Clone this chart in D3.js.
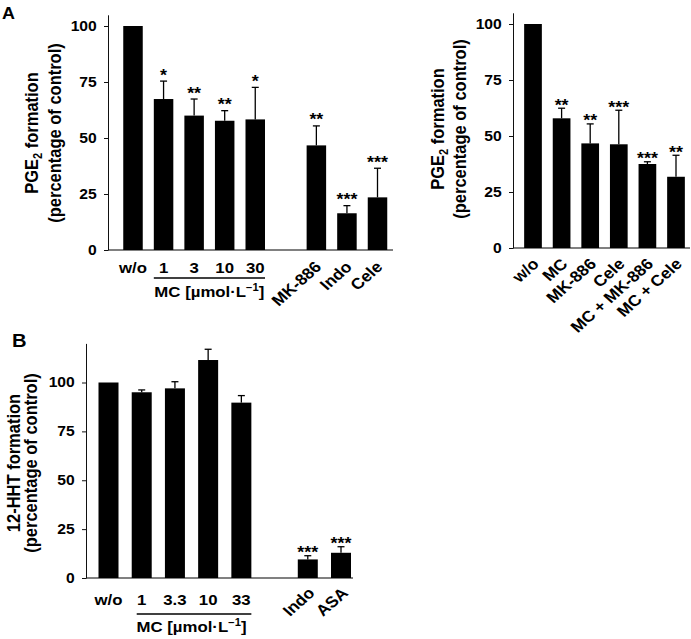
<!DOCTYPE html>
<html><head><meta charset="utf-8">
<script src="https://cdn.jsdelivr.net/npm/d3@7"></script>
<style>
body{margin:0;background:#fff}
svg{display:block}
text{font-family:"Liberation Sans",Arial,Helvetica,sans-serif;font-weight:bold;fill:#000}
</style>
</head><body>
<svg id="c" width="691" height="639"></svg>
<script>
// ---------------- data ----------------
const yTicks = [0, 25, 50, 75, 100];

// Panel A (left): PGE2 formation
const a1Labels  = ["w/o", "1", "3", "10", "30", "MK-886", "Indo", "Cele"];
const a1Slots   = [0, 1, 2, 3, 4, 6, 7, 8];
const a1Values  = [100, 67.4, 60.0, 57.7, 58.3, 46.7, 16.4, 23.5];
const a1Errors  = [0, 8.0, 7.4, 4.5, 14.3, 8.7, 3.4, 13.0];
const a1Stars   = ["", "*", "**", "**", "*", "**", "***", "***"];
const a1Rotated = [false, false, false, false, false, true, true, true];

// Panel A (right): PGE2 formation, combinations
const a2Labels  = ["w/o", "MC", "MK-886", "Cele", "MC + MK-886", "MC + Cele"];
const a2Slots   = [0, 1, 2, 3, 4, 5];
const a2Values  = [100, 57.9, 46.7, 46.3, 37.5, 31.8];
const a2Errors  = [0, 4.5, 8.7, 15.2, 1.0, 9.6];
const a2Stars   = ["", "**", "**", "***", "***", "**"];
const a2Rotated = [true, true, true, true, true, true];

// Panel B: 12-HHT formation
const bLabels  = ["w/o", "1", "3.3", "10", "33", "Indo", "ASA"];
const bSlots   = [0, 1, 2, 3, 4, 6, 7];
const bValues  = [100, 95.0, 97.0, 111.5, 89.7, 9.5, 12.9];
const bErrors  = [0, 1.2, 3.4, 5.5, 3.6, 1.9, 3.1];
const bStars   = ["", "", "", "", "", "***", "***"];
const bRotated = [false, false, false, false, false, true, true];

// ---------------- drawing ----------------
const SX = 1.12; // horizontal stretch of the original artwork's lettering
const svg = d3.select("#c");

function stext(g, x, y, size, anchor, rot) {
  return g.append("text")
    .attr("transform", `translate(${x},${y}) scale(${SX},1)` + (rot ? ` rotate(${rot})` : ""))
    .attr("font-size", size)
    .attr("text-anchor", anchor);
}

function mcLabel(g, x, y) {
  const t = stext(g, x, y, 15, "middle");
  t.append("tspan").text("MC [µmol·L");
  t.append("tspan").attr("dy", -6).attr("font-size", 10).text("−1");
  t.append("tspan").attr("dy", 6).text("]");
}

function drawPanel(o) {
  const g = svg.append("g");
  const y = d3.scaleLinear().domain([0, o.yMax]).range([o.y0, o.y0 - o.yMax * o.pxPerUnit]);
  const x = d3.scaleLinear().domain([0, o.nSlots - 1]).range([o.xFirst, o.xLast]);

  // baseline (gray)
  g.append("line")
    .attr("x1", o.axisX).attr("x2", o.baseEnd)
    .attr("y1", y(0)).attr("y2", y(0))
    .attr("stroke", "#808080").attr("stroke-width", 2);

  // y axis
  const ax = g.append("g")
    .attr("transform", `translate(${o.axisX},0)`)
    .call(d3.axisLeft(y).tickValues(yTicks).tickSize(4).tickSizeOuter(0).tickPadding(6));
  ax.attr("font-size", 14).attr("font-family", null);
  ax.select(".domain").attr("stroke", "#111");
  ax.selectAll(".tick line").attr("stroke", "#111");
  ax.selectAll(".tick text").attr("transform", `scale(${SX},1)`);

  // bars
  g.selectAll("rect.bar").data(o.values).join("rect")
    .attr("class", "bar")
    .attr("x", (d, i) => x(o.slots[i]) - o.bw / 2)
    .attr("y", d => y(d))
    .attr("width", o.bw)
    .attr("height", d => y(0) - y(d))
    .attr("fill", "#000");

  // error bars (upper only), stars, category labels
  o.values.forEach((v, i) => {
    const e = o.errors[i];
    const cx = x(o.slots[i]);
    if (e > 0) {
      g.append("line").attr("x1", cx).attr("x2", cx).attr("y1", y(v)).attr("y2", y(v + e))
        .attr("stroke", "#000").attr("stroke-width", 1.3);
      g.append("line").attr("x1", cx - 3.5).attr("x2", cx + 3.5).attr("y1", y(v + e)).attr("y2", y(v + e))
        .attr("stroke", "#000").attr("stroke-width", 1.3);
    }
    if (o.stars[i]) {
      stext(g, cx, y(v + e) + o.starDy, 16, "middle").text(o.stars[i]);
    }
    if (o.rotated[i]) {
      stext(g, cx + o.rotDx, o.rotY, 15.5, "end", -45).text(o.labels[i]);
    } else {
      stext(g, cx, o.labelY, 15, "middle").text(o.labels[i]);
    }
  });

  // group underline + MC label
  if (o.group) {
    const gs = o.group;
    g.append("line")
      .attr("x1", x(gs.from) - o.bw / 2 + gs.inset).attr("x2", x(gs.to) + o.bw / 2)
      .attr("y1", gs.lineY).attr("y2", gs.lineY)
      .attr("stroke", "#000").attr("stroke-width", 1.5);
    mcLabel(g, (x(gs.from) + x(gs.to)) / 2, gs.textY);
  }

  // y title
  const t1 = stext(g, o.axisX + o.title1Dx, o.titleY, 16.5, "middle", -90);
  o.title1(t1);
  stext(g, o.axisX + o.title2Dx, o.titleY, 16.5, "middle", -90).text("(percentage of control)");
  return {x, y};
}

const pgeTitle = t => {
  t.append("tspan").text("PGE");
  t.append("tspan").attr("dy", 4).attr("font-size", 11).text("2");
  t.append("tspan").attr("dy", -4).text(" formation");
};

// Panel A left
drawPanel({
  axisX: 108, y0: 250, pxPerUnit: 2.24, yMax: 105,
  nSlots: 9, xFirst: 133, xLast: 377.5, bw: 19.5, baseEnd: 393,
  values: a1Values, errors: a1Errors, stars: a1Stars, labels: a1Labels, slots: a1Slots, rotated: a1Rotated,
  starDy: -0.5, labelY: 273, rotDx: 6, rotY: 268,
  group: {from: 1, to: 4, inset: 0, lineY: 278, textY: 297},
  title1Dx: -70, title2Dx: -47.5, titleY: 133,
  title1: pgeTitle
});

// Panel A right
drawPanel({
  axisX: 513, y0: 248, pxPerUnit: 2.24, yMax: 105,
  nSlots: 6, xFirst: 533, xLast: 676, bw: 17.7, baseEnd: 690,
  values: a2Values, errors: a2Errors, stars: a2Stars, labels: a2Labels, slots: a2Slots, rotated: a2Rotated,
  starDy: 2.5, labelY: 270, rotDx: 7, rotY: 265,
  group: null,
  title1Dx: -69, title2Dx: -47, titleY: 129,
  title1: pgeTitle
});

// Panel B
drawPanel({
  axisX: 86, y0: 578, pxPerUnit: 1.955, yMax: 120,
  nSlots: 8, xFirst: 108.5, xLast: 341, bw: 20, baseEnd: 353,
  values: bValues, errors: bErrors, stars: bStars, labels: bLabels, slots: bSlots, rotated: bRotated,
  starDy: 2.5, labelY: 605, rotDx: 8, rotY: 594,
  group: {from: 1, to: 4, inset: 5, lineY: 614, textY: 632},
  title1Dx: -66, title2Dx: -49.5, titleY: 463,
  title1: t => t.text("12-HHT formation")
});

// panel letters
stext(svg, 2, 18.5, 16, "start").text("A");
stext(svg, 12, 347, 18, "start").text("B");
</script>
</body></html>
